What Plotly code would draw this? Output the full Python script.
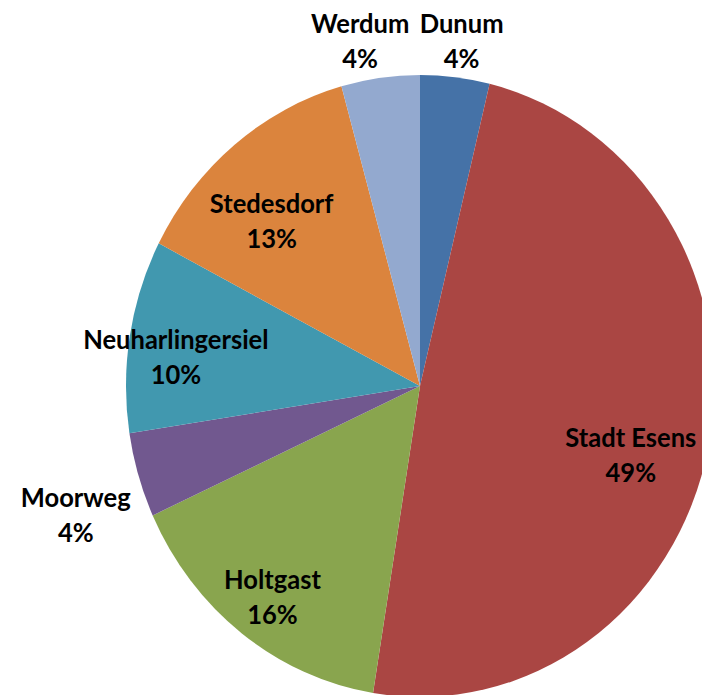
import plotly.graph_objects as go

# Slice data (clockwise from 12 o'clock)
labels = ["Dunum", "Stadt Esens", "Holtgast", "Moorweg", "Neuharlingersiel", "Stedesdorf", "Werdum"]
values = [3.8, 48.7, 15.6, 4.4, 10.0, 13.1, 4.3]
colors = ["#4572A7", "#AA4643", "#89A54E", "#71588F", "#4198AF", "#DB843D", "#93A9CF"]

# Label block centres in pixels of the visible area (x, y from top-left)
label_pos = [(462, 40), (631, 454), (273, 596), (76, 514), (176, 356), (272, 220), (360, 40)]

# the original pie is slightly squashed horizontally
sx = 294 / 311
W, H = 889, 772
cx, cy, r = 420 / sx, 386, 311

fig = go.Figure(go.Pie(
    labels=labels,
    values=values,
    marker=dict(colors=colors, line=dict(width=0)),
    sort=False,
    direction="clockwise",
    rotation=0,
    textinfo="none",
    hoverinfo="label+percent",
    domain=dict(x=[(cx - r) / W, (cx + r) / W], y=[1 - (cy + r) / H, 1 - (cy - r) / H]),
))

total = sum(values)
for lab, val, (px_, py_) in zip(labels, values, label_pos):
    fig.add_annotation(
        x=px_ / sx / W, y=1 - py_ / H, xref="paper", yref="paper",
        xanchor="center", yanchor="middle",
        text=f"<b>{lab}</b><br><b>{round(val / total * 100)}%</b>",
        showarrow=False, align="center",
        font=dict(family="Lato, Open Sans, sans-serif", size=27, color="#000000"),
    )

fig.update_layout(
    width=W, height=H,
    margin=dict(l=0, r=0, t=0, b=0),
    showlegend=False,
    paper_bgcolor="white",
    plot_bgcolor="white",
)

post = (
    "document.body.style.margin='0';"
    "document.body.style.overflow='hidden';"
    "var gd=document.getElementById('{plot_id}');"
    "gd.style.transformOrigin='0 0';"
    "gd.style.transform='scaleX(" + str(sx) + ")';"
)
fig.write_html("out.html", post_script=post)
